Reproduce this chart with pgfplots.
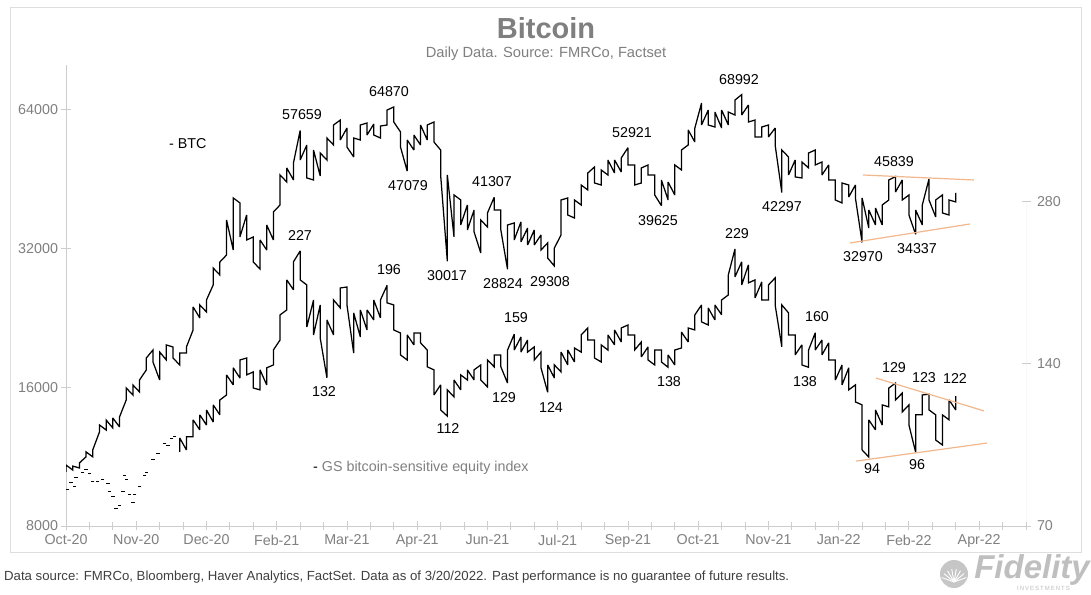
\documentclass[border=0pt]{standalone}
\usepackage{pgfplots}
\pgfplotsset{compat=1.18}
\usepackage{fontspec}
\setmainfont{Liberation Sans}
\definecolor{tickgray}{RGB}{128,128,128}
\definecolor{axgray}{RGB}{205,205,205}
\definecolor{trend}{RGB}{242,184,140}
\definecolor{framegray}{RGB}{222,222,222}
\definecolor{titlegray}{RGB}{127,127,127}
\definecolor{footgray}{RGB}{64,64,64}
\newcommand{\fs}[1]{\fontsize{#1}{#1}\selectfont}
\begin{document}
\begin{tikzpicture}[x=1pt,y=1pt]
\useasboundingbox (0,0) rectangle (1091,594);
\fill[white] (0,0) rectangle (1091,594);
\draw[framegray, line width=0.9pt] (10,42) rectangle (1081,587);

\begin{axis}[
  at={(66pt,68pt)}, anchor=south west, scale only axis, width=960pt, height=461pt,
  xmin=0, xmax=574, ymode=log, ymin=8000, ymax=80000,
  axis x line*=bottom, axis y line*=left,
  axis line style={axgray, line width=0.9pt, -},
  xtick={0,42,...,546},
  xticklabels={Oct-20,Nov-20,Dec-20,Feb-21,Mar-21,Apr-21,Jun-21,Jul-21,Sep-21,Oct-21,Nov-21,Jan-22,Feb-22,Apr-22},
  minor xtick={14,28,...,574},
  ytick={8000,16000,32000,64000},
  yticklabels={8000,16000,32000,64000},
  minor y tick num=0,
  tick align=center, major tick length=9pt, minor tick length=8pt,
  tick style={axgray, line width=0.9pt},
  ticklabel style={font=\fs{14.3}, text=tickgray},
  xticklabel style={yshift=-1pt},
]
\addplot[black, line width=1.25pt, line join=miter, miter limit=3] coordinates {
(0,10480)(0,10850)(4,10580)(4,10790)(8,10690)(8,10960)(12,11300)(12,11580)(16,11300)(16,11700)
(20,12790)(20,13250)(24,12920)(24,13580)(28,13050)(28,13720)(32,13120)(32,13790)(36,15010)(36,15940)
(40,15390)(40,16180)(44,15620)(44,16590)(48,17440)(48,18510)(52,19270)(52,18150)(56,16590)(56,19080)
(60,18330)(60,19760)(64,19560)(64,18510)(68,17880)(68,18990)(72,18990)(72,19560)(76,21300)(76,23890)
(80,22610)(80,24130)(84,23300)(84,24740)(88,26660)(88,29020)(92,28020)(92,29900)(96,30970)(96,36890)
(100,31750)(100,41170)(104,40160)(104,33890)(108,37820)(108,33380)(112,33890)(112,29900)(116,28870)(116,33380)
(120,31750)(120,35980)(124,33380)(124,38390)(128,39760)(128,46180)(132,44590)(132,47830)(136,45040)(136,49040)
(140,57659)(140,49770)(144,53640)(144,45500)(148,45040)(148,52320)(152,45950)(152,51540)(156,49770)(156,55550)
(160,53640)(160,59280)(164,60770)(164,55000)(168,58390)(168,53110)(172,50530)(172,55550)(176,55000)(176,59280)
(180,59870)(180,56390)(184,59570)(184,56390)(188,55550)(188,58980)(192,59280)(192,63880)(196,64870)(196,60170)
(200,57250)(200,53110)(204,47079)(204,55000)(208,52320)(208,56390)(212,53640)(212,59280)(216,55000)(216,59280)
(220,60170)(220,54460)(224,52320)(224,46180)(228,30017)(228,46180)(232,33890)(232,41790)(236,40760)(236,35980)
(240,39760)(240,35090)(244,38780)(244,34750)(248,31280)(248,36890)(252,35620)(252,38200)(256,41307)(256,38780)
(260,38780)(260,35090)(264,28824)(264,35980)(268,36340)(268,33380)(272,36530)(272,33050)(276,35440)(276,32560)
(280,35090)(280,32560)(284,34230)(284,31750)(288,32890)(288,30500)(292,29308)(292,32070)(296,34230)(296,40760)
(300,41170)(300,37820)(304,37260)(304,40760)(308,39760)(308,43930)(312,42850)(312,46640)(316,48070)(316,44370)
(320,43930)(320,47350)(324,46180)(324,49770)(328,46640)(328,49770)(332,46880)(332,50280)(336,52921)(336,48550)
(340,48550)(340,43930)(344,44370)(344,47830)(348,48550)(348,46180)(352,46180)(352,41790)(356,39625)(356,45040)
(360,40760)(360,44590)(364,41790)(364,48550)(368,47350)(368,52320)(372,53640)(372,57820)(376,54460)(376,58390)
(380,66150)(380,59280)(384,63880)(384,59280)(388,58690)(388,63250)(392,58390)(392,63880)(396,59280)(396,63250)
(400,62310)(400,67150)(404,68992)(404,62310)(408,65500)(408,60170)(412,60770)(412,55830)(416,55830)(416,58690)
(420,59280)(420,55830)(424,58390)(424,53640)(428,42297)(428,52320)(432,50530)(432,46180)(436,49770)(436,45730)
(440,45500)(440,49280)(444,47830)(444,51540)(448,52320)(448,48550)(452,49280)(452,46180)(456,48550)(456,45040)
(460,45040)(460,40760)(464,40160)(464,44370)(468,43930)(468,41370)(472,43930)(472,41170)(476,32970)(476,41170)
(480,35440)(480,38780)(484,35980)(484,39170)(488,35980)(488,39760)(492,40760)(492,45040)(496,45839)(496,42420)
(500,45040)(500,40760)(504,41790)(504,37820)(508,34337)(508,38780)(512,35980)(512,39760)(516,45270)(516,40760)
(520,37450)(520,40760)(524,41790)(524,38200)(528,37820)(528,40760)(532,40360)(532,42210)
};
\addplot[trend, line width=1.2pt] coordinates {(476.5,46180)(542.9,45040)};
\addplot[trend, line width=1.2pt] coordinates {(468.8,32890)(540.5,36160)};
\end{axis}

\begin{axis}[
  at={(66pt,68pt)}, anchor=south west, scale only axis, width=960pt, height=461pt,
  xmin=0, xmax=574, ymode=log, ymin=70, ymax=503,
  hide x axis, axis y line*=right,
  y axis line style={draw=none},
  ytick={70,140,280}, yticklabels={70,140,280},
  minor y tick num=0,
  tick align=center, major tick length=9pt,
  tick style={axgray, line width=0.9pt},
  ticklabel style={font=\fs{14.3}, text=tickgray},
  yticklabel style={xshift=3pt},
]
\draw[axgray, line width=0.9pt] (axis cs:574,70) -- (axis cs:574,280);
\addplot[black, only marks, mark=-, mark size=1.7pt, mark options={line width=0.7pt}] coordinates {
(1,81.7)(3,84.5)(5,83.1)(6,86.3)(10,88.2)(12,89.3)(14,87.8)(16,84.9)(19,84.9)(22,85.6)
(25,84.1)(26,81.0)(28,79.6)(30,75.6)(32,76.6)(34,81.0)(35,87.1)(36,85.6)(38,80.3)(40,77.3)
(41,80.3)(44,82.8)(47,87.1)(48,88.2)(52,93.2)(55,95.7)(59,99.8)(61,99.0)(63,102.0)(65,102.9)
};
\addplot[black, line width=1.25pt, line join=miter, miter limit=3] coordinates {
(68,96.1)(68,102.0)(72,96.9)(72,102.5)(76,102.5)(76,110.2)(80,105.6)(80,112.6)(84,107.8)(84,115.0)
(88,109.2)(88,117.5)(92,112.6)(92,120.0)(96,122.6)(96,133.6)(100,128.0)(100,137.7)(104,131.8)(104,142.4)
(108,143.6)(108,133.6)(112,135.3)(112,126.3)(116,125.3)(116,136.5)(120,128.0)(120,137.7)(124,139.4)(124,148.6)
(128,155.1)(128,172.7)(132,176.4)(132,200.6)(136,192.2)(136,216.7)(140,227)(140,200.6)(144,196.3)(144,164.0)
(148,184.1)(148,158.5)(152,180.2)(152,156.4)(156,132)(156,169.0)(160,158.5)(160,184.1)(164,177.9)(164,193.8)
(168,194.6)(168,180.2)(172,146.7)(172,174.2)(176,157.1)(176,176.4)(180,161.9)(180,176.4)(184,169.0)(184,184.1)
(188,170.5)(188,184.1)(192,196)(192,181.8)(196,180.2)(196,161.9)(200,159.8)(200,145.5)(204,142.4)(204,158.5)
(208,151.9)(208,159.8)(212,159.8)(212,153.2)(216,148.6)(216,138.3)(220,136.5)(220,122.6)(224,128.0)(224,115.0)
(228,112)(228,125.3)(232,121.6)(232,130.7)(236,125.3)(236,133.6)(240,130.7)(240,136.5)(244,130.7)(244,136.5)
(248,139.4)(248,130.7)(252,126.9)(252,142.4)(256,138.3)(256,145.5)(260,145.5)(260,138.3)(264,129)(264,148.6)
(268,159)(268,148.6)(272,157.1)(272,147.3)(276,155.1)(276,147.3)(280,150.6)(280,142.4)(284,147.3)(284,137.7)
(288,124)(288,139.4)(292,131.8)(292,139.4)(296,135.3)(296,147.3)(300,139.4)(300,148.6)(304,141.2)(304,149.9)
(308,147.3)(308,158.5)(312,163.3)(312,155.1)(316,155.1)(316,143.6)(320,141.2)(320,151.9)(324,148.6)(324,158.5)
(328,151.9)(328,161.9)(332,153.8)(332,163.3)(336,165.4)(336,158.5)(340,158.5)(340,148.6)(344,153.8)(344,144.3)
(348,150.6)(348,142.4)(352,139.4)(352,148.6)(356,148.6)(356,141.2)(360,138)(360,145.5)(364,139.4)(364,148.6)
(368,149.9)(368,160.5)(372,153.8)(372,163.3)(376,161.9)(376,172.7)(380,180.2)(380,167.6)(384,165.4)(384,177.9)
(388,169.0)(388,180.2)(392,172.7)(392,184.1)(396,188.1)(396,204.9)(400,229)(400,203.2)(404,216.7)(404,196.3)
(408,213.9)(408,198.0)(412,200.6)(412,185.7)(416,198.9)(416,184.1)(420,184.1)(420,196.3)(424,202.3)(424,180.2)
(428,150.6)(428,180.2)(432,174.2)(432,158.5)(436,158.5)(436,145.5)(440,151.9)(440,139.4)(444,138)(444,148.6)
(448,160)(448,148.6)(452,155.1)(452,145.5)(456,153.2)(456,142.4)(460,142.4)(460,130.7)(464,139.4)(464,128.0)
(468,137.7)(468,125.3)(472,128.0)(472,119.0)(476,117.5)(476,96.9)(480,94)(480,110.2)(484,105.6)(484,115.0)
(488,107.8)(488,117.5)(492,116.5)(492,126.3)(496,129)(496,120.0)(500,123.6)(500,114.0)(504,117.5)(504,107.8)
(508,96)(508,112.6)(512,112.6)(512,122.6)(516,123)(516,115.0)(520,112.6)(520,101.1)(524,99.0)(524,112.6)
(528,110.2)(528,120.0)(532,115.0)(532,122)
};
\addplot[trend, line width=1.2pt] coordinates {(484.3,131.8)(548.9,114.5)};
\addplot[trend, line width=1.2pt] coordinates {(472.4,92.4)(550.7,99.8)};
\end{axis}

% title
\node[font=\bfseries\fs{29}, text=titlegray, anchor=base] at (546,555) {Bitcoin};
\node[font=\fs{14.7}, text=titlegray, anchor=base] at (546,536.5) {Daily Data. Source: FMRCo, Factset};

% series labels
\node[font=\fs{14.3}, anchor=west, inner sep=0pt] at (169,450) {- BTC};
\node[font=\fs{14.3}, text=tickgray, anchor=west, inner sep=0pt] at (313,126) {\textcolor{black}{-} GS bitcoin-sensitive equity index};

% annotations
\begin{scope}[every node/.style={font=\fs{14.3}, inner sep=0pt}]
\node at (302,479) {57659};
\node at (389,502) {64870};
\node at (408,408) {47079};
\node at (492,412) {41307};
\node at (447,318) {30017};
\node at (503,310) {28824};
\node at (550,312) {29308};
\node at (632,461) {52921};
\node at (658,373) {39625};
\node at (739,514) {68992};
\node at (782,387) {42297};
\node at (894,432) {45839};
\node at (863,337) {32970};
\node at (917,345) {34337};
\node at (300,358) {227};
\node at (324,202) {132};
\node at (389,324) {196};
\node at (448,165) {112};
\node at (516,276) {159};
\node at (504,196) {129};
\node at (551,186) {124};
\node at (669,212) {138};
\node at (737,360) {229};
\node at (817,277) {160};
\node at (805,212) {138};
\node at (894,226) {129};
\node at (924,216) {123};
\node at (955,215) {122};
\node at (872,125) {94};
\node at (917,129) {96};
\end{scope}

% footer
\node[font=\fs{13.2}, text=footgray, anchor=west, inner sep=0pt] at (4,17) {Data source: FMRCo, Bloomberg, Haver Analytics, FactSet. Data as of 3/20/2022. Past performance is no guarantee of future results.};

% logo
\fill[gray!45] (954,20) circle (14);
\foreach \a in {20,40,...,160} {\draw[white, line width=0.9pt] (954,12) -- ++(\a:13);}
\node[font=\bfseries\itshape\fs{33}, text=gray!50, anchor=east, inner sep=0pt] at (1090,24) {Fidelity};
\node[font=\fs{6}, text=gray!50, anchor=east, inner sep=0pt] at (1070,6) {I\,N\,V\,E\,S\,T\,M\,E\,N\,T\,S};
\end{tikzpicture}
\end{document}
